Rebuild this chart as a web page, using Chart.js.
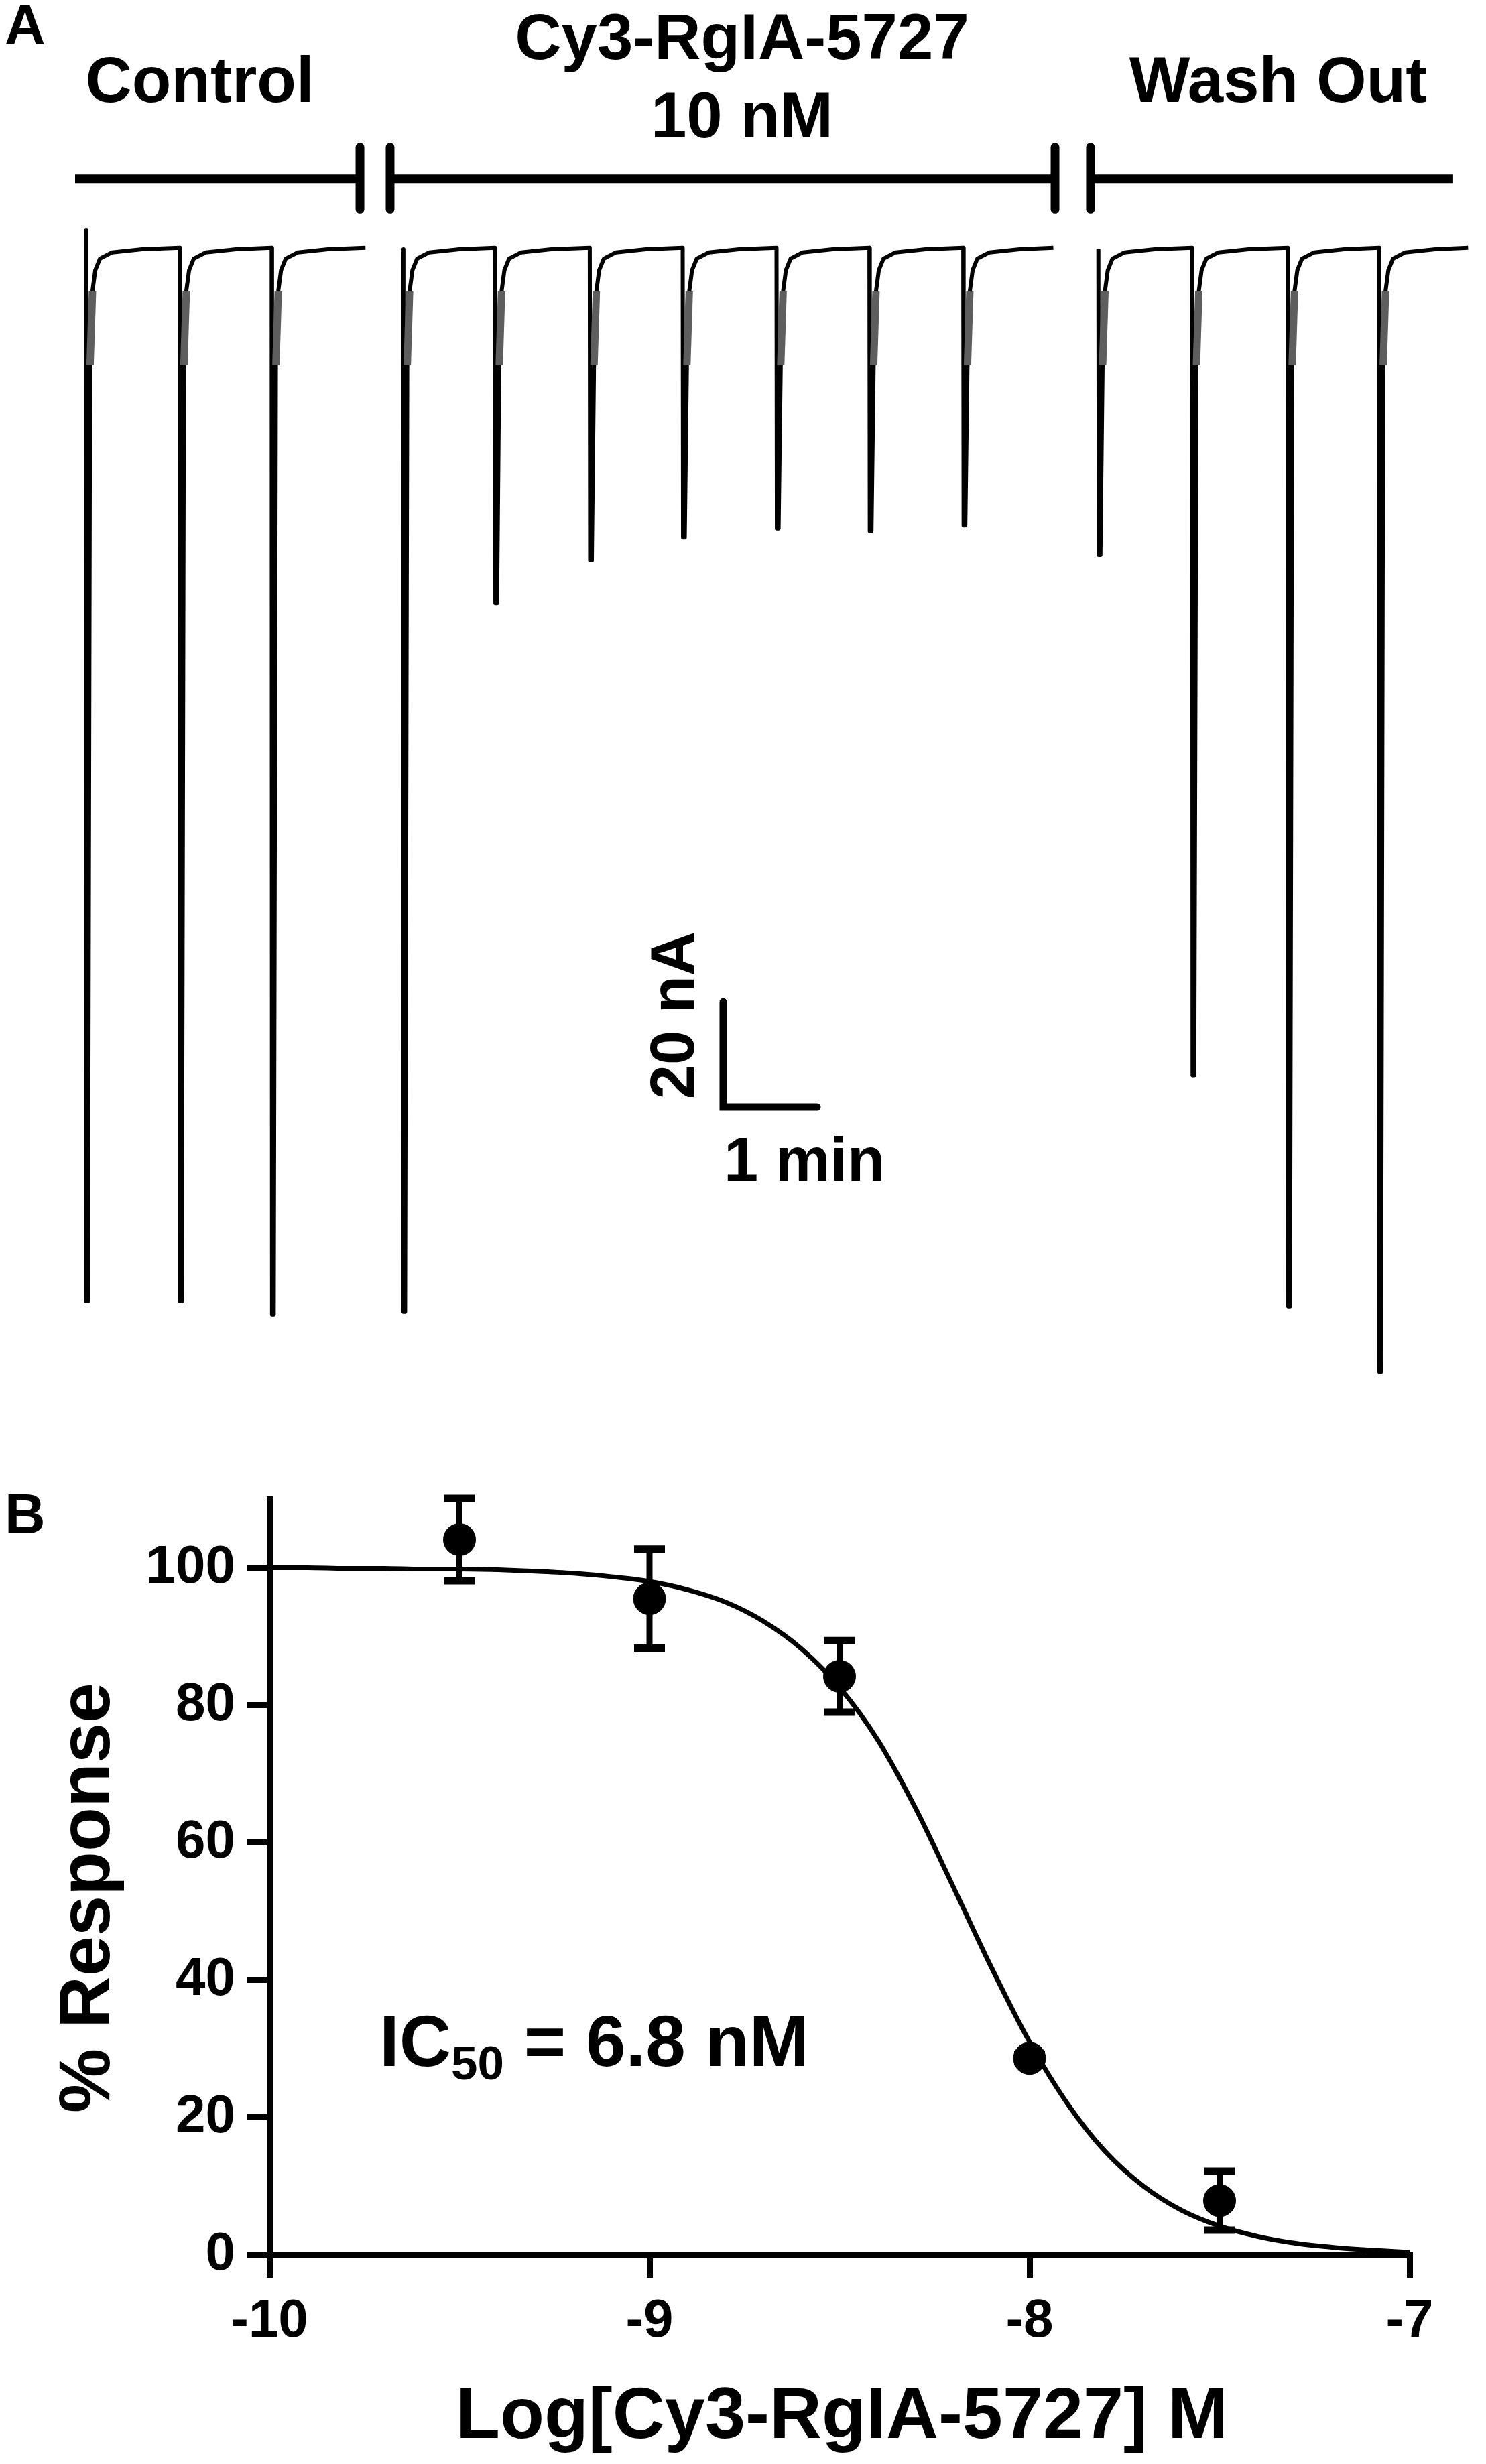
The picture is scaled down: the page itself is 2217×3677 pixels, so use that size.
<!DOCTYPE html>
<html>
<head>
<meta charset="utf-8">
<script src="https://cdn.jsdelivr.net/npm/chart.js@4.4.1/dist/chart.umd.min.js"></script>
<style>
body{margin:0;background:#fff;}
#wrap{position:relative;width:2217px;height:3677px;background:#fff;}
canvas{position:absolute;left:0;}
#traceChart{top:0;}
#doseChart{top:2150px;}
</style>
</head>
<body>
<div id="wrap">
<canvas id="traceChart" width="2217" height="2150"></canvas>
<canvas id="doseChart" width="2217" height="1527"></canvas>
</div>
<script>
// Panel A: current traces, time in min, current in nA (0 = holding baseline)
const controlTimes = [0, 1.0, 1.98];
const controlAmps = [200, 200, 202.5];
const drugTimes = [3.38, 4.36, 5.37, 6.36, 7.36, 8.35, 9.35];
const drugAmps = [202, 67.3, 59.1, 54.8, 53.1, 53.6, 52.5];
const washTimes = [10.79, 11.79, 12.81, 13.78];
const washAmps = [58.1, 157, 201, 213.4];
const sweepEnds = [2.98, 10.31, 14.73];
const sweepStartLevel = [3.7, 0, 0];

// shape of one response after onset (min after onset, nA); null = peak
const shapeDt = [0.004, 0.022, 0.045, 0.07, 0.1, 0.15, 0.28, 0.6];
const shapeV = [null, null, -22, -8, -4, -1.8, -0.6, 0];

// application periods (min)
const conditionNames = ["Control", "Cy3-RgIA-5727", "Wash Out"];
const barStart = [-0.115, 3.242, 10.706];
const barEnd = [2.921, 10.328, 14.57];

const scaleBarNA = 20;
const scaleBarMin = 1;

// Panel B: concentration-response
const logConc = [-9.5, -9, -8.5, -8, -7.5];
const response = [104.1, 95.5, 84.2, 28.6, 7.9];
const sem = [6.0, 7.2, 5.2, 0.5, 4.3];

const fitLog = [-10, -9.9, -9.8, -9.7, -9.6, -9.5, -9.4, -9.3, -9.2, -9.1,
  -9, -8.9, -8.8, -8.7, -8.6, -8.5, -8.4, -8.3, -8.2, -8.1,
  -8, -7.9, -7.8, -7.7, -7.6, -7.5, -7.4, -7.3, -7.2, -7.1, -7];
const fitResp = [100, 100, 99.9, 99.9, 99.8, 99.8, 99.7, 99.5, 99.2, 98.7,
  98.0, 96.8, 95.0, 92.2, 88.2, 82.6, 75.0, 65.0, 53.5, 41.8,
  31.0, 22.0, 15.0, 10.0, 6.5, 4.2, 2.7, 1.7, 1.1, 0.7, 0.4];

const xTicks = [-10, -9, -8, -7];
const yTicks = [0, 20, 40, 60, 80, 100];


const FONT = '"Liberation Sans", Arial, sans-serif';

// ---------- panel A ----------
const pxPerMin = 140, pxPerNA = 7.85;
const xMin = -0.915, xMax = 2217 / pxPerMin + xMin;
const yMax = 372 / pxPerNA, yMin = yMax - 2150 / pxPerNA;

function buildSweep(times, amps, startLevel, endTime) {
  const pts = [], gray = [];
  times.forEach((t, i) => {
    pts.push({x: t, y: i === 0 ? startLevel : 0.3});
    gray.push(false);
    shapeDt.forEach((dt, k) => {
      pts.push({x: t + dt, y: shapeV[k] === null ? -amps[i] : shapeV[k]});
      gray.push(k === 2);
    });
  });
  pts.push({x: endTime, y: 0.3});
  gray.push(false);
  return {pts, gray};
}

const sweeps = [
  buildSweep(controlTimes, controlAmps, sweepStartLevel[0], sweepEnds[0]),
  buildSweep(drugTimes, drugAmps, sweepStartLevel[1], sweepEnds[1]),
  buildSweep(washTimes, washAmps, sweepStartLevel[2], sweepEnds[2])
];

const barLevel = 13.4, tickLow = 7.6, tickHigh = 19.4;
const sbT = 6.792, sbV = -163.06;

const traceSets = sweeps.map(s => ({
  data: s.pts,
  borderColor: '#000',
  borderWidth: 6,
  borderJoinStyle: 'round',
  pointRadius: 0,
  segment: {
    borderColor: c => s.gray[c.p0DataIndex] ? '#5e5e5e' : '#000',
    borderWidth: c => s.gray[c.p0DataIndex] ? 11 : 6
  }
}));

const barSets = barStart.map((b, i) => ({
  data: [{x: b, y: barLevel}, {x: barEnd[i], y: barLevel}],
  borderColor: '#000', borderWidth: 13, pointRadius: 0, borderCapStyle: 'butt'
}));

const breakSets = [];
for (let i = 0; i < barStart.length - 1; i++) {
  [barEnd[i], barStart[i + 1]].forEach(t => {
    breakSets.push({
      data: [{x: t, y: tickLow}, {x: t, y: tickHigh}],
      borderColor: '#000', borderWidth: 13, pointRadius: 0, borderCapStyle: 'round'
    });
  });
}

const scaleBarSet = {
  data: [{x: sbT, y: sbV + scaleBarNA}, {x: sbT, y: sbV}, {x: sbT + scaleBarMin, y: sbV}],
  borderColor: '#000', borderWidth: 11, pointRadius: 0,
  borderCapStyle: 'round', borderJoinStyle: 'miter'
};

const labelsA = {
  id: 'labelsA',
  afterDraw(chart) {
    const ctx = chart.ctx;
    ctx.save();
    ctx.fillStyle = '#000';
    ctx.textBaseline = 'alphabetic';
    ctx.font = 'bold 84px ' + FONT;
    ctx.textAlign = 'left';
    ctx.fillText('A', 7, 66);
    ctx.font = 'bold 96px ' + FONT;
    ctx.textAlign = 'center';
    ctx.fillText(conditionNames[0], 298, 152);
    ctx.fillText(conditionNames[1], 1107, 88);
    ctx.fillText('10 nM', 1107, 205);
    ctx.fillText(conditionNames[2], 1907, 152);
    ctx.font = 'bold 92px ' + FONT;
    ctx.textAlign = 'left';
    ctx.fillText(scaleBarMin + ' min', 1080, 1762);
    ctx.translate(1035, 1515);
    ctx.rotate(-Math.PI / 2);
    ctx.textAlign = 'center';
    ctx.fillText(scaleBarNA + ' nA', 0, 0);
    ctx.restore();
  }
};

new Chart(document.getElementById('traceChart'), {
  type: 'line',
  data: {datasets: [...traceSets, ...barSets, ...breakSets, scaleBarSet]},
  options: {
    responsive: false,
    animation: false,
    devicePixelRatio: 1,
    layout: {padding: 0},
    plugins: {legend: {display: false}, tooltip: {enabled: false}},
    elements: {line: {tension: 0}, point: {radius: 0}},
    scales: {
      x: {type: 'linear', display: false, min: xMin, max: xMax},
      y: {type: 'linear', display: false, min: yMin, max: yMax}
    }
  },
  plugins: [labelsA]
});

// ---------- panel B ----------
const errorBars = {
  id: 'errorBars',
  afterDatasetsDraw(chart) {
    const ctx = chart.ctx, xs = chart.scales.x, ys = chart.scales.y;
    ctx.save();
    ctx.strokeStyle = '#000';
    logConc.forEach((c, i) => {
      const x = xs.getPixelForValue(c);
      const yt = ys.getPixelForValue(response[i] + sem[i]);
      const yb = ys.getPixelForValue(response[i] - sem[i]);
      ctx.lineWidth = 9;
      ctx.beginPath(); ctx.moveTo(x, yt); ctx.lineTo(x, yb); ctx.stroke();
      ctx.lineWidth = 11;
      ctx.beginPath();
      ctx.moveTo(x - 23, yt); ctx.lineTo(x + 23, yt);
      ctx.moveTo(x - 23, yb); ctx.lineTo(x + 23, yb);
      ctx.stroke();
    });
    ctx.restore();
  }
};

const labelsB = {
  id: 'labelsB',
  afterDraw(chart) {
    const ctx = chart.ctx;
    ctx.save();
    ctx.fillStyle = '#000';
    ctx.textBaseline = 'alphabetic';
    ctx.font = 'bold 84px ' + FONT;
    ctx.textAlign = 'left';
    ctx.fillText('B', 7, 138);
    // IC50 label
    ctx.font = 'bold 107px ' + FONT;
    ctx.fillText('IC', 566, 933);
    const w1 = ctx.measureText('IC').width;
    ctx.font = 'bold 71px ' + FONT;
    ctx.fillText('50', 566 + w1, 953);
    const w2 = ctx.measureText('50').width;
    ctx.font = 'bold 107px ' + FONT;
    ctx.fillText(' = 6.8 nM', 566 + w1 + w2, 933);
    // axis titles
    ctx.font = 'bold 108px ' + FONT;
    ctx.textAlign = 'center';
    ctx.fillText('Log[Cy3-RgIA-5727] M', 1256, 1488);
    ctx.translate(163, 682);
    ctx.rotate(-Math.PI / 2);
    ctx.fillText('% Response', 0, 0);
    ctx.restore();
  }
};

const axisStyle = {
  grid: {drawOnChartArea: false, drawTicks: true, tickLength: 34, lineWidth: 9, color: '#000'},
  border: {display: true, width: 9, color: '#000'},
  ticks: {color: '#000', font: {family: FONT, size: 80, weight: 'bold'}}
};

new Chart(document.getElementById('doseChart'), {
  type: 'scatter',
  data: {
    datasets: [
      {
        data: logConc.map((c, i) => ({x: c, y: response[i]})),
        pointRadius: 24, pointBackgroundColor: '#000', pointBorderColor: '#000',
        pointBorderWidth: 1, showLine: false, clip: false
      },
      {
        data: fitLog.map((c, i) => ({x: c, y: fitResp[i]})),
        showLine: true, borderColor: '#000', borderWidth: 7, pointRadius: 0,
        cubicInterpolationMode: 'monotone', clip: false
      }
    ]
  },
  options: {
    responsive: false,
    animation: false,
    devicePixelRatio: 1,
    layout: {padding: {top: 87, right: 114, left: 0, bottom: 0}},
    plugins: {legend: {display: false}, tooltip: {enabled: false}},
    scales: {
      x: {
        type: 'linear', min: -10, max: -7,
        afterBuildTicks(s) { s.ticks = xTicks.map(v => ({value: v})); },
        afterFit(s) { s.height = 312; },
        grid: axisStyle.grid, border: axisStyle.border,
        ticks: {...axisStyle.ticks, padding: 18}
      },
      y: {
        type: 'linear', min: 0, max: 110,
        afterBuildTicks(s) { s.ticks = yTicks.map(v => ({value: v})); },
        afterFit(s) { s.width = 402; },
        grid: axisStyle.grid, border: axisStyle.border,
        ticks: {...axisStyle.ticks, padding: 17}
      }
    }
  },
  plugins: [errorBars, labelsB]
});
</script>
</body>
</html>
